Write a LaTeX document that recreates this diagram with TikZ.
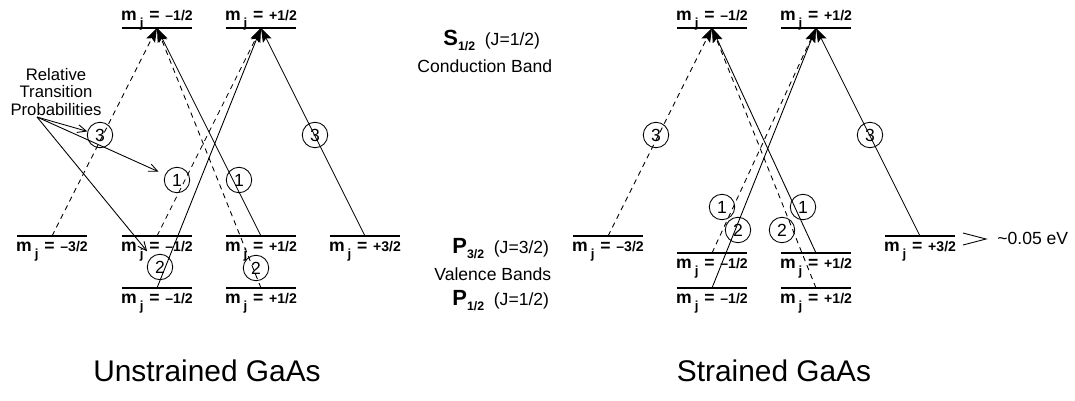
\documentclass[tikz,border=0pt]{standalone}
\usepackage{fontspec}
\setmainfont{Liberation Sans}
\usetikzlibrary{arrows.meta}

% m_j level label
\newcommand{\mj}[1]{\textbf{m}\,\raisebox{-0.75ex}{\fontsize{7.5}{7}\selectfont\bfseries j}\,\,\textbf{=}\,\,{\fontsize{8}{8}\selectfont\bfseries #1}}
\newcommand{\subbf}[1]{\raisebox{-0.6ex}{\fontsize{7}{7}\selectfont\bfseries #1}}

\begin{document}
\begin{tikzpicture}[x=0.02cm, y=-0.02cm,
    level/.style={line width=1.1pt},
    trans/.style={line width=0.5pt, -{Stealth[length=8pt, width=5.5pt, inset=1.5pt]}},
    dtrans/.style={trans, dash pattern=on 3pt off 2.5pt},
    prob/.style={circle, draw, line width=0.5pt, minimum size=14.5pt, inner sep=0pt,
      font=\fontsize{10}{10}\selectfont},
    note/.style={line width=0.5pt, -{Straight Barb[length=5pt, width=4.5pt]}},
    lblup/.style={anchor=base, yshift=4pt, inner sep=0pt, font=\fontsize{10}{10}\selectfont},
    lbldn/.style={anchor=base, yshift=-9pt, inner sep=0pt, font=\fontsize{10}{10}\selectfont},
    band/.style={anchor=base west, inner sep=0pt, font=\fontsize{10}{11}\selectfont},
    title/.style={anchor=base, inner sep=0pt, font=\fontsize{17}{20}\selectfont}]
  \useasboundingbox (0,0) rectangle (1075,400);

  % unstrained: S1/2 conduction band, P3/2 and P1/2 valence bands
  \coordinate (uCm) at (157,28);
  \coordinate (uCp) at (261,28);
  \coordinate (uVm3) at (52,236);
  \coordinate (uVm1) at (157,236);
  \coordinate (uVp1) at (261,236);
  \coordinate (uVp3) at (365,236);
  \coordinate (uSm1) at (157,288);
  \coordinate (uSp1) at (261,288);

  % strained: heavy/light holes split by ~0.05 eV
  \coordinate (sCm) at (712,28);
  \coordinate (sCp) at (816,28);
  \coordinate (sVm3) at (608,236);
  \coordinate (sVm1) at (712,253);
  \coordinate (sVp1) at (816,253);
  \coordinate (sVp3) at (920,236);
  \coordinate (sSm1) at (712,288);
  \coordinate (sSp1) at (816,288);

  \foreach \c in {uCm,uCp,uVm3,uVm1,uVp1,uVp3,uSm1,uSp1,sCm,sCp,sVm3,sVm1,sVp1,sVp3,sSm1,sSp1}
    \draw[level] (\c) +(-35,0) -- +(35,0);

  % level labels
  \node[lblup] (uCmL) at (uCm) {\mj{–1/2}};
  \node[lblup] (uCpL) at (uCp) {\mj{+1/2}};
  \node[lbldn] (uVm3L) at (uVm3) {\mj{–3/2}};
  \node[lbldn] (uVm1L) at (uVm1) {\mj{–1/2}};
  \node[lbldn] (uVp1L) at (uVp1) {\mj{+1/2}};
  \node[lbldn] (uVp3L) at (uVp3) {\mj{+3/2}};
  \node[lbldn] (uSm1L) at (uSm1) {\mj{–1/2}};
  \node[lbldn] (uSp1L) at (uSp1) {\mj{+1/2}};
  \node[lblup] (sCmL) at (sCm) {\mj{–1/2}};
  \node[lblup] (sCpL) at (sCp) {\mj{+1/2}};
  \node[lbldn] (sVm3L) at (sVm3) {\mj{–3/2}};
  \node[lbldn] (sVm1L) at (sVm1) {\mj{–1/2}};
  \node[lbldn] (sVp1L) at (sVp1) {\mj{+1/2}};
  \node[lbldn] (sVp3L) at (sVp3) {\mj{+3/2}};
  \node[lbldn] (sSm1L) at (sSm1) {\mj{–1/2}};
  \node[lbldn] (sSp1L) at (sSp1) {\mj{+1/2}};

  % transitions, unstrained
  \draw[dtrans] (uVm3) -- (uCm);
  \draw[trans] (uVp1) -- (uCm);
  \draw[dtrans] (uSp1) -- (uCm);
  \draw[trans] (uVp3) -- (uCp);
  \draw[dtrans] (uVm1) -- (uCp);
  \draw[trans] (uSm1) -- (uCp);

  % transitions, strained
  \draw[dtrans] (sVm3) -- (sCm);
  \draw[trans] (sVp1) -- (sCm);
  \draw[dtrans] (sSp1) -- (sCm);
  \draw[trans] (sVp3) -- (sCp);
  \draw[dtrans] (sVm1) -- (sCp);
  \draw[trans] (sSm1) -- (sCp);

  % relative transition probabilities
  \node[prob] (u3a) at (100,135) {3};
  \node[prob] (u1a) at (239,180) {1};
  \node[prob] (u2a) at (256,268) {2};
  \node[prob] (u3b) at (315,135) {3};
  \node[prob] (u1b) at (177,180) {1};
  \node[prob] (u2b) at (160,267) {2};
  \node[prob] (s3a) at (656,135) {3};
  \node[prob] (s1a) at (803,207) {1};
  \node[prob] (s2a) at (782,230) {2};
  \node[prob] (s3b) at (870,135) {3};
  \node[prob] (s1b) at (722,207) {1};
  \node[prob] (s2b) at (738,230) {2};

  \node[align=center, inner sep=0pt, font=\fontsize{9.5}{10}\selectfont] (rtp) at (56,92)
    {Relative\\Transition\\Probabilities};
  \coordinate (rtpfoot) at (37,117);
  \draw[note] (rtpfoot) -- (u3a);
  \draw[note, shorten >=4pt] (rtpfoot) -- (u1b);
  \draw[note, shorten >=4pt] (rtpfoot) -- (u2b);

  % band names
  \node[band] (sband) at (443,45) {{\fontsize{12.5}{12}\selectfont\textbf{S}}\subbf{1/2}\ \ (J=1/2)};
  \node[band] (cband) at (417,72) {Conduction Band};
  \node[band] (p3band) at (452,253) {{\fontsize{12.5}{12}\selectfont\textbf{P}}\subbf{3/2}\ \ (J=3/2)};
  \node[band] (vband) at (434,280) {Valence Bands};
  \node[band] (p1band) at (452,305) {{\fontsize{12.5}{12}\selectfont\textbf{P}}\subbf{1/2}\ \ (J=1/2)};

  % splitting
  \draw[line width=0.5pt] (963,233) -- (986,239) -- (963,245);
  \node[band] (split) at (997,244) {\textasciitilde0.05 eV};

  \node[title] (unstr) at (207,381) {Unstrained GaAs};
  \node[title] (str) at (774,381) {Strained GaAs};
\end{tikzpicture}
\end{document}
